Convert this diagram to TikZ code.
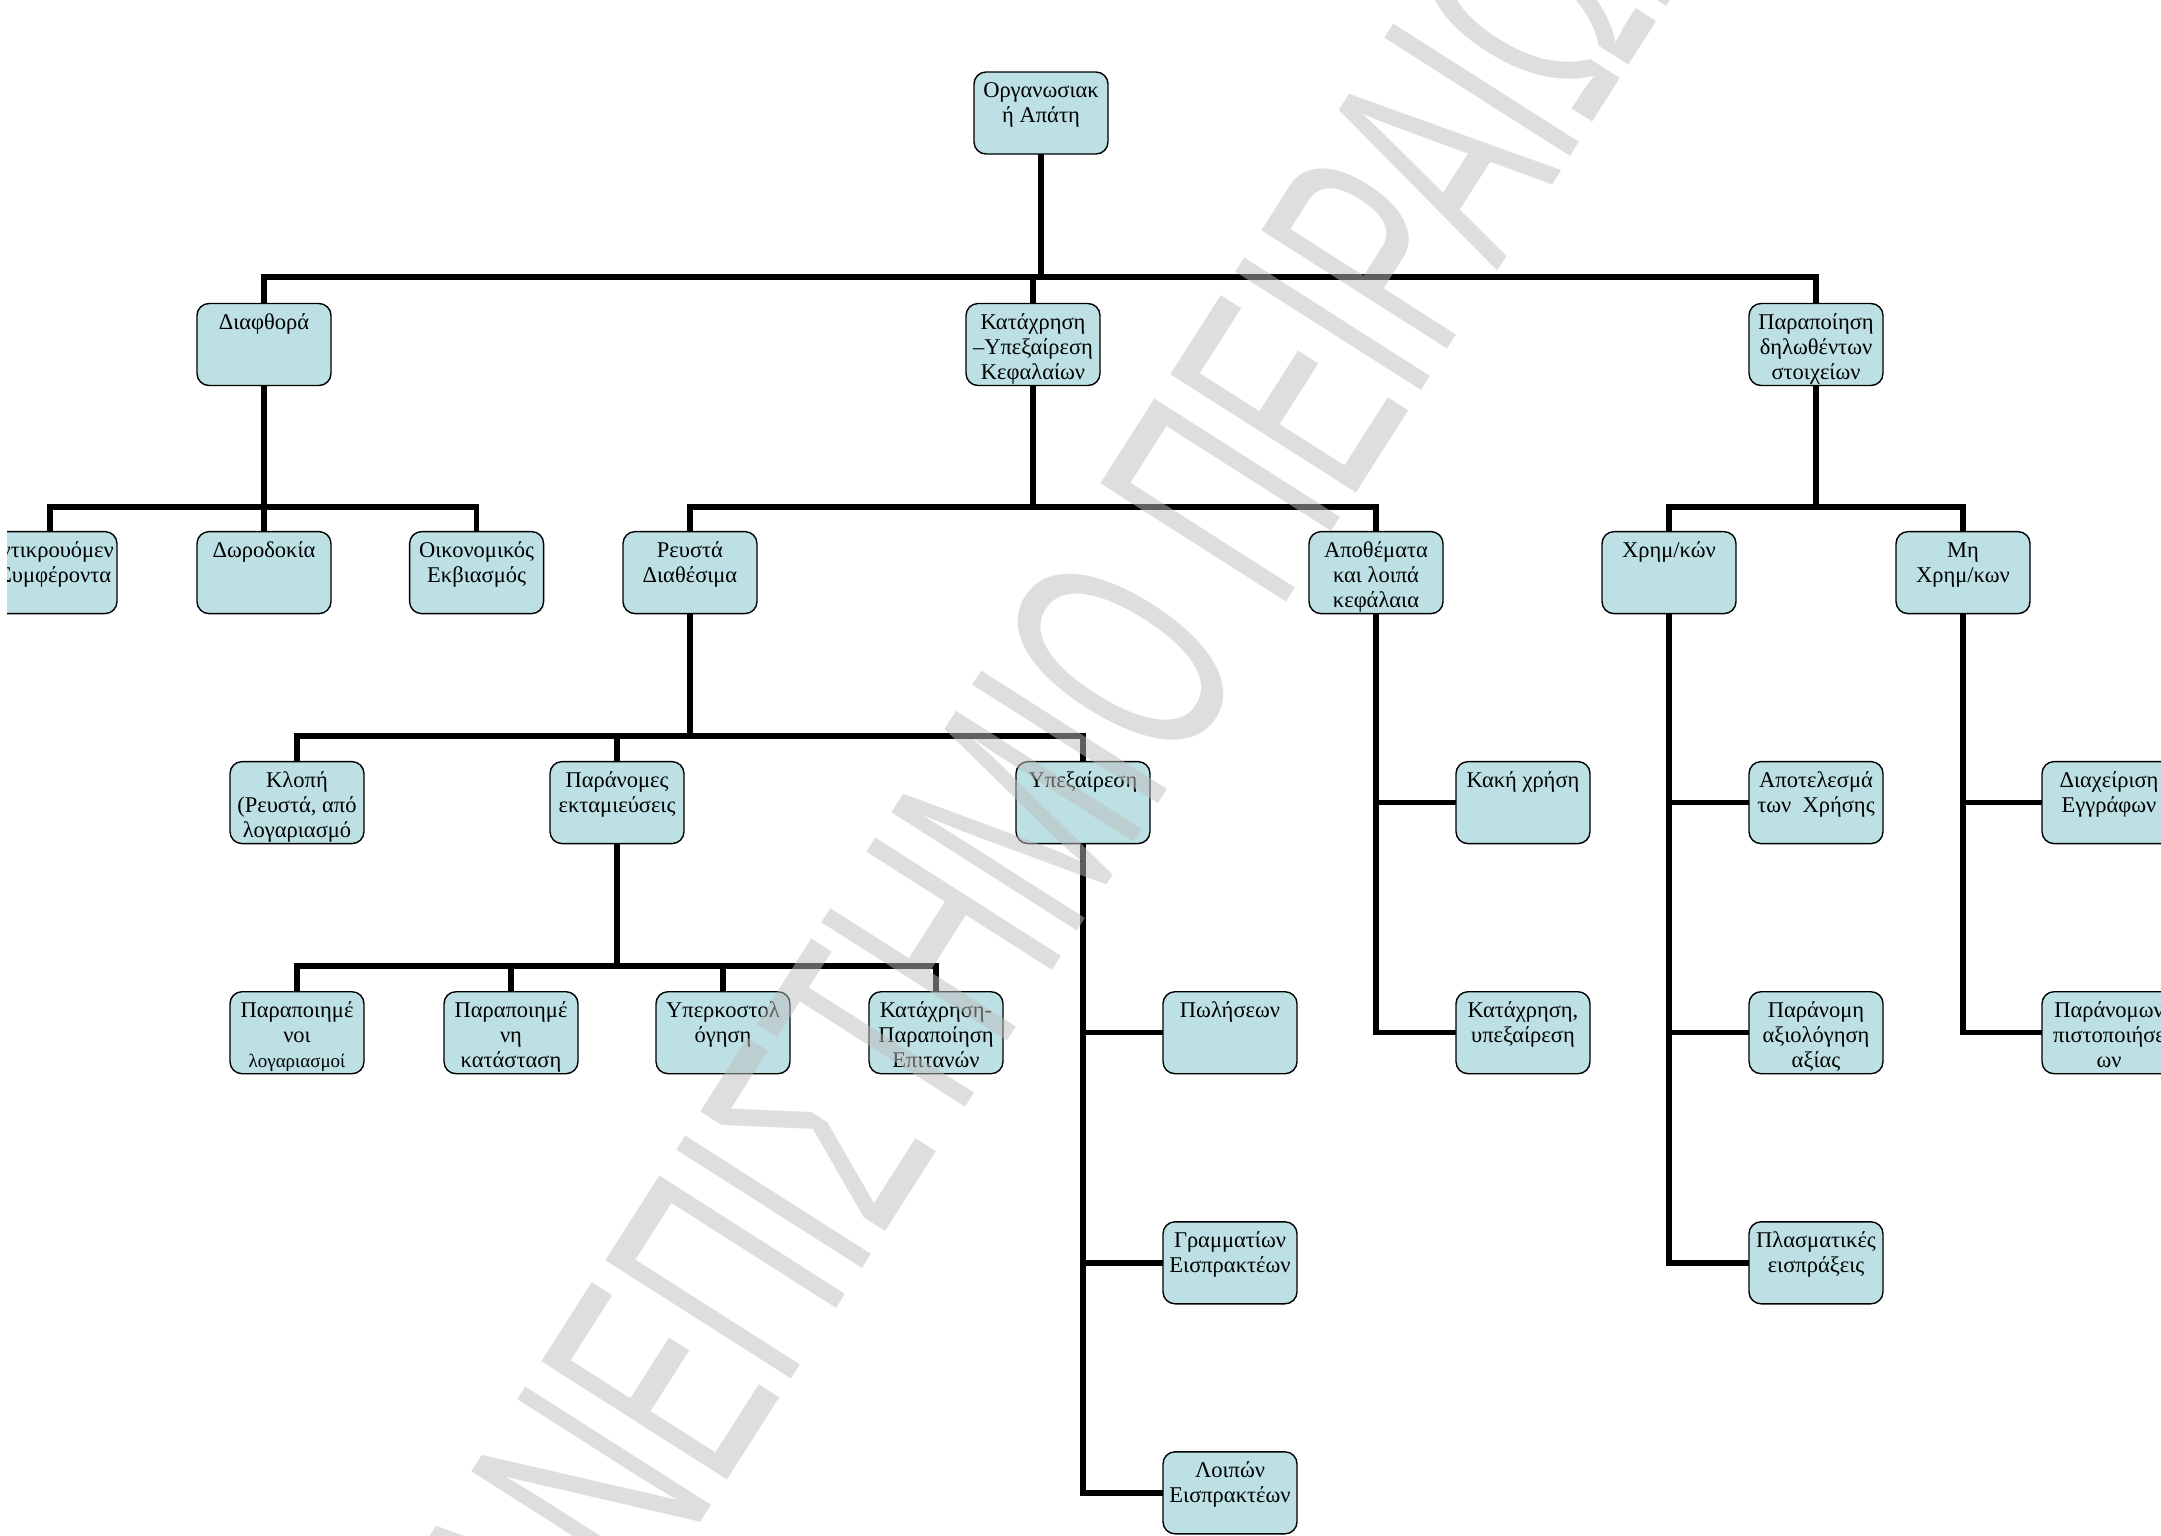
\documentclass[tikz,border=0pt]{standalone}
\usepackage{fontspec}
\usepackage{graphicx}
\setmainfont{Liberation Serif}
\newfontfamily\wmfont{Liberation Sans}
\usetikzlibrary{backgrounds}
\definecolor{boxfill}{RGB}{188,224,228}
\definecolor{wmgray}{RGB}{190,190,190}
\newcommand\bxt[1]{\parbox[t][82pt][t]{134pt}{\fontsize{22.5pt}{25.3pt}\selectfont\centering\rule{0pt}{25.5pt}#1\par}}
\newcommand\Ln[1]{\makebox[0pt][c]{#1}}
\tikzset{
  box/.style={draw=black, line width=1.4pt, fill=boxfill, rounded corners=12pt,
              inner sep=0pt, outer sep=0pt, anchor=north west},
  conn/.style={line width=5.5pt, draw=black},
  wm/.style={inner sep=0pt, text=wmgray, text opacity=0.5, font=\wmfont\fontsize{200pt}{200pt}\selectfont},
}
\begin{document}
\begin{tikzpicture}[x=1pt,y=-1pt]
\useasboundingbox (0,0) rectangle (2161,1535);
\clip (7,0) rectangle (2161,1535);
% row 0
\node[box] (root) at (974,72) {\bxt{Οργανωσιακ\\ή Απάτη}};
% row 1
\node[box] (d1) at (197,303.5) {\bxt{Διαφθορά}};
\node[box] (d2) at (966,303.5) {\bxt{Κατάχρηση\\–Υπεξαίρεση\\Κεφαλαίων}};
\node[box] (d3) at (1749,303.5) {\bxt{Παραποίηση\\δηλωθέντων\\στοιχείων}};
% row 2
\node[box] (e1) at (-17,531.6) {\bxt{\Ln{Αντικρουόμεν}\\\Ln{\hspace*{10pt}Συμφέροντα}}};
\node[box] (e2) at (197,531.6) {\bxt{Δωροδοκία}};
\node[box] (e3) at (409.6,531.6) {\bxt{Οικονομικός\\Εκβιασμός}};
\node[box] (e4) at (623,531.6) {\bxt{Ρευστά\\Διαθέσιμα}};
\node[box] (e5) at (1309,531.6) {\bxt{Αποθέματα\\και λοιπά\\κεφάλαια}};
\node[box] (e6) at (1602,531.6) {\bxt{Χρημ/κών}};
\node[box] (e7) at (1896,531.6) {\bxt{Μη\\Χρημ/κων}};
% row 3
\node[box] (f1) at (230,761.6) {\bxt{Κλοπή\\(Ρευστά, από\\λογαριασμό}};
\node[box] (f2) at (550,761.6) {\bxt{Παράνομες\\εκταμιεύσεις}};
\node[box] (f3) at (1016,761.6) {\bxt{Υπεξαίρεση}};
\node[box] (f4) at (1456,761.6) {\bxt{Κακή χρήση}};
\node[box] (f5) at (1749,761.6) {\bxt{Αποτελεσμά\\των~~Χρήσης}};
\node[box] (f6) at (2042,761.6) {\bxt{Διαχείριση\\Εγγράφων}};
% row 4
\node[box] (g1) at (230,991.7) {\bxt{Παραποιημέ\\νοι\\{\fontsize{19pt}{25.3pt}\selectfont λογαριασμοί}}};
\node[box] (g2) at (444,991.7) {\bxt{Παραποιημέ\\νη\\κατάσταση}};
\node[box] (g3) at (656,991.7) {\bxt{Υπερκοστολ\\όγηση}};
\node[box] (g4) at (869,991.7) {\bxt{Κατάχρηση-\\Παραποίηση\\Επιτανών}};
\node[box] (g5) at (1163,991.7) {\bxt{Πωλήσεων}};
\node[box] (g6) at (1456,991.7) {\bxt{Κατάχρηση,\\υπεξαίρεση}};
\node[box] (g7) at (1749,991.7) {\bxt{Παράνομη\\αξιολόγηση\\αξίας}};
\node[box] (g8) at (2042,991.7) {\bxt{Παράνομων\\\Ln{πιστοποιήσε}\\ων}};
% row 5
\node[box] (h1) at (1163,1221.8) {\bxt{Γραμματίων\\Εισπρακτέων}};
\node[box] (h2) at (1749,1221.8) {\bxt{Πλασματικές\\εισπράξεις}};
% row 6
\node[box] (i1) at (1163,1451.8) {\bxt{Λοιπών\\Εισπρακτέων}};
% buses
\coordinate (bus1) at (0,277);
\coordinate (bus2) at (0,507);
\coordinate (bus3) at (0,736);
\coordinate (bus4) at (0,966);
\begin{scope}[on background layer]
\draw[conn] (root.south) -- (root.south |- bus1) -| (d1.north);
\draw[conn] (root.south) -- (root.south |- bus1) -| (d2.north);
\draw[conn] (root.south) -- (root.south |- bus1) -| (d3.north);
\draw[conn] (d1.south) -- (d1.south |- bus2) -| (e1.north);
\draw[conn] (d1.south) -- (d1.south |- bus2) -| (e2.north);
\draw[conn] (d1.south) -- (d1.south |- bus2) -| (e3.north);
\draw[conn] (d2.south) -- (d2.south |- bus2) -| (e4.north);
\draw[conn] (d2.south) -- (d2.south |- bus2) -| (e5.north);
\draw[conn] (d3.south) -- (d3.south |- bus2) -| (e6.north);
\draw[conn] (d3.south) -- (d3.south |- bus2) -| (e7.north);
\draw[conn] (e4.south) -- (e4.south |- bus3) -| (f1.north);
\draw[conn] (e4.south) -- (e4.south |- bus3) -| (f2.north);
\draw[conn] (e4.south) -- (e4.south |- bus3) -| (f3.north);
\draw[conn] (f2.south) -- (f2.south |- bus4) -| (g1.north);
\draw[conn] (f2.south) -- (f2.south |- bus4) -| (g2.north);
\draw[conn] (f2.south) -- (f2.south |- bus4) -| (g3.north);
\draw[conn] (f2.south) -- (f2.south |- bus4) -| (g4.north);
\draw[conn] (f3.south) |- (g5.west);
\draw[conn] (f3.south) |- (h1.west);
\draw[conn] (f3.south) |- (i1.west);
\draw[conn] (e5.south) |- (f4.west);
\draw[conn] (e5.south) |- (g6.west);
\draw[conn] (e6.south) |- (f5.west);
\draw[conn] (e6.south) |- (g7.west);
\draw[conn] (e6.south) |- (h2.west);
\draw[conn] (e7.south) |- (f6.west);
\draw[conn] (e7.south) |- (g8.west);
\end{scope}
% watermark
\node[wm, rotate=57.5] (wmark) at (1025,808) {\scalebox{0.9}[1.6]{ΠΑΝΕΠΙΣΤΗΜΙΟ ΠΕΙΡΑΙΩΣ}};
\end{tikzpicture}
\end{document}
